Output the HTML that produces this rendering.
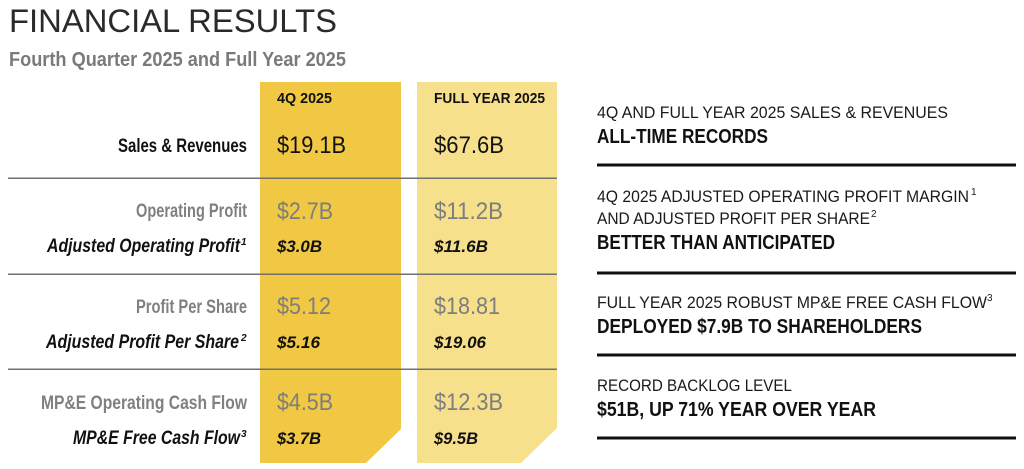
<!DOCTYPE html>
<html>
<head>
<meta charset="utf-8">
<style>
  html,body{margin:0;padding:0;background:#fff;}
  svg{display:block;}
  text{font-family:"Liberation Sans", sans-serif;}
</style>
</head>
<body>
<svg width="1024" height="469" viewBox="0 0 1024 469" xmlns="http://www.w3.org/2000/svg">
  <rect width="1024" height="469" fill="#ffffff"/>

  <!-- Title -->
  <text x="9" y="32" font-size="32" fill="#2a2a2a" textLength="328" lengthAdjust="spacingAndGlyphs">FINANCIAL RESULTS</text>
  <text x="9" y="66" font-size="20.5" font-weight="bold" fill="#7a7a7a" textLength="337" lengthAdjust="spacingAndGlyphs">Fourth Quarter 2025 and Full Year 2025</text>

  <!-- Column boxes -->
  <polygon points="260,82 401,82 401,429 366,463 260,463" fill="#F0C844"/>
  <polygon points="417,82 557,82 557,428 521,463 417,463" fill="#F6E08C"/>

  <!-- Separator lines (left) -->
  <rect x="8" y="177.5" width="549" height="1.5" fill="#707070"/>
  <rect x="8" y="273.5" width="549" height="1.5" fill="#707070"/>
  <rect x="8" y="368.5" width="549" height="1.5" fill="#707070"/>

  <!-- Column headers -->
  <text x="277" y="103" font-size="15" font-weight="bold" fill="#111" textLength="55" lengthAdjust="spacingAndGlyphs">4Q 2025</text>
  <text x="434" y="103" font-size="15" font-weight="bold" fill="#111" textLength="111" lengthAdjust="spacingAndGlyphs">FULL YEAR 2025</text>

  <!-- Row 1 -->
  <text x="118" y="152" font-size="19" font-weight="bold" fill="#111" textLength="129" lengthAdjust="spacingAndGlyphs">Sales &amp; Revenues</text>
  <text x="277" y="153" font-size="24" fill="#111" textLength="69" lengthAdjust="spacingAndGlyphs">$19.1B</text>
  <text x="434" y="153" font-size="24" fill="#111" textLength="70" lengthAdjust="spacingAndGlyphs">$67.6B</text>

  <!-- Row 2 -->
  <text x="136" y="217" font-size="19" font-weight="bold" fill="#808080" textLength="111" lengthAdjust="spacingAndGlyphs">Operating Profit</text>
  <text x="277" y="219" font-size="24" fill="#7d7d7d" textLength="56" lengthAdjust="spacingAndGlyphs">$2.7B</text>
  <text x="434" y="219" font-size="24" fill="#7d7d7d" textLength="69" lengthAdjust="spacingAndGlyphs">$11.2B</text>
  <text x="47" y="252" font-size="19" font-weight="bold" font-style="italic" fill="#111" textLength="193" lengthAdjust="spacingAndGlyphs">Adjusted Operating Profit</text>
  <text x="241" y="245" font-size="10" font-weight="bold" font-style="italic" fill="#111">1</text>
  <text x="277" y="252" font-size="17" font-weight="bold" font-style="italic" fill="#111" textLength="45" lengthAdjust="spacingAndGlyphs">$3.0B</text>
  <text x="434" y="252" font-size="17" font-weight="bold" font-style="italic" fill="#111" textLength="54" lengthAdjust="spacingAndGlyphs">$11.6B</text>

  <!-- Row 3 -->
  <text x="136" y="313" font-size="19" font-weight="bold" fill="#808080" textLength="111" lengthAdjust="spacingAndGlyphs">Profit Per Share</text>
  <text x="277" y="314" font-size="24" fill="#7d7d7d" textLength="54" lengthAdjust="spacingAndGlyphs">$5.12</text>
  <text x="434" y="314" font-size="24" fill="#7d7d7d" textLength="66" lengthAdjust="spacingAndGlyphs">$18.81</text>
  <text x="46" y="348" font-size="19" font-weight="bold" font-style="italic" fill="#111" textLength="193" lengthAdjust="spacingAndGlyphs">Adjusted Profit Per Share</text>
  <text x="241" y="341" font-size="10" font-weight="bold" font-style="italic" fill="#111">2</text>
  <text x="277" y="348" font-size="17" font-weight="bold" font-style="italic" fill="#111" textLength="43" lengthAdjust="spacingAndGlyphs">$5.16</text>
  <text x="434" y="348" font-size="17" font-weight="bold" font-style="italic" fill="#111" textLength="52" lengthAdjust="spacingAndGlyphs">$19.06</text>

  <!-- Row 4 -->
  <text x="41" y="409" font-size="19" font-weight="bold" fill="#808080" textLength="206" lengthAdjust="spacingAndGlyphs">MP&amp;E Operating Cash Flow</text>
  <text x="277" y="410" font-size="24" fill="#7d7d7d" textLength="56" lengthAdjust="spacingAndGlyphs">$4.5B</text>
  <text x="434" y="410" font-size="24" fill="#7d7d7d" textLength="69" lengthAdjust="spacingAndGlyphs">$12.3B</text>
  <text x="73" y="444" font-size="19" font-weight="bold" font-style="italic" fill="#111" textLength="167" lengthAdjust="spacingAndGlyphs">MP&amp;E Free Cash Flow</text>
  <text x="241" y="437" font-size="10" font-weight="bold" font-style="italic" fill="#111">3</text>
  <text x="277" y="444" font-size="17" font-weight="bold" font-style="italic" fill="#111" textLength="44" lengthAdjust="spacingAndGlyphs">$3.7B</text>
  <text x="434" y="444" font-size="17" font-weight="bold" font-style="italic" fill="#111" textLength="44" lengthAdjust="spacingAndGlyphs">$9.5B</text>

  <!-- Right side -->
  <text x="597" y="118" font-size="16.5" fill="#1a1a1a" textLength="351" lengthAdjust="spacingAndGlyphs">4Q AND FULL YEAR 2025 SALES &amp; REVENUES</text>
  <text x="597" y="143" font-size="20.5" font-weight="bold" fill="#111" textLength="171" lengthAdjust="spacingAndGlyphs">ALL-TIME RECORDS</text>
  <rect x="597" y="163.5" width="419" height="3" fill="#111"/>

  <text x="597" y="202" font-size="16.5" fill="#1a1a1a" textLength="372" lengthAdjust="spacingAndGlyphs">4Q 2025 ADJUSTED OPERATING PROFIT MARGIN</text>
  <text x="971" y="195" font-size="10" fill="#1a1a1a">1</text>
  <text x="597" y="224" font-size="16.5" fill="#1a1a1a" textLength="273" lengthAdjust="spacingAndGlyphs">AND ADJUSTED PROFIT PER SHARE</text>
  <text x="871" y="217" font-size="10" fill="#1a1a1a">2</text>
  <text x="597" y="249" font-size="20.5" font-weight="bold" fill="#111" textLength="238" lengthAdjust="spacingAndGlyphs">BETTER THAN ANTICIPATED</text>
  <rect x="597" y="271.5" width="419" height="3" fill="#111"/>

  <text x="597" y="308" font-size="16.5" fill="#1a1a1a" textLength="390" lengthAdjust="spacingAndGlyphs">FULL YEAR 2025 ROBUST MP&amp;E FREE CASH FLOW</text>
  <text x="987" y="301" font-size="10" fill="#1a1a1a">3</text>
  <text x="597" y="333" font-size="20.5" font-weight="bold" fill="#111" textLength="325" lengthAdjust="spacingAndGlyphs">DEPLOYED $7.9B TO SHAREHOLDERS</text>
  <rect x="597" y="353.5" width="419" height="3" fill="#111"/>

  <text x="597" y="391" font-size="16.5" fill="#1a1a1a" textLength="195" lengthAdjust="spacingAndGlyphs">RECORD BACKLOG LEVEL</text>
  <text x="597" y="416" font-size="20.5" font-weight="bold" fill="#111" textLength="279" lengthAdjust="spacingAndGlyphs">$51B, UP 71% YEAR OVER YEAR</text>
  <rect x="597" y="436.5" width="419" height="3" fill="#111"/>
</svg>
</body>
</html>
